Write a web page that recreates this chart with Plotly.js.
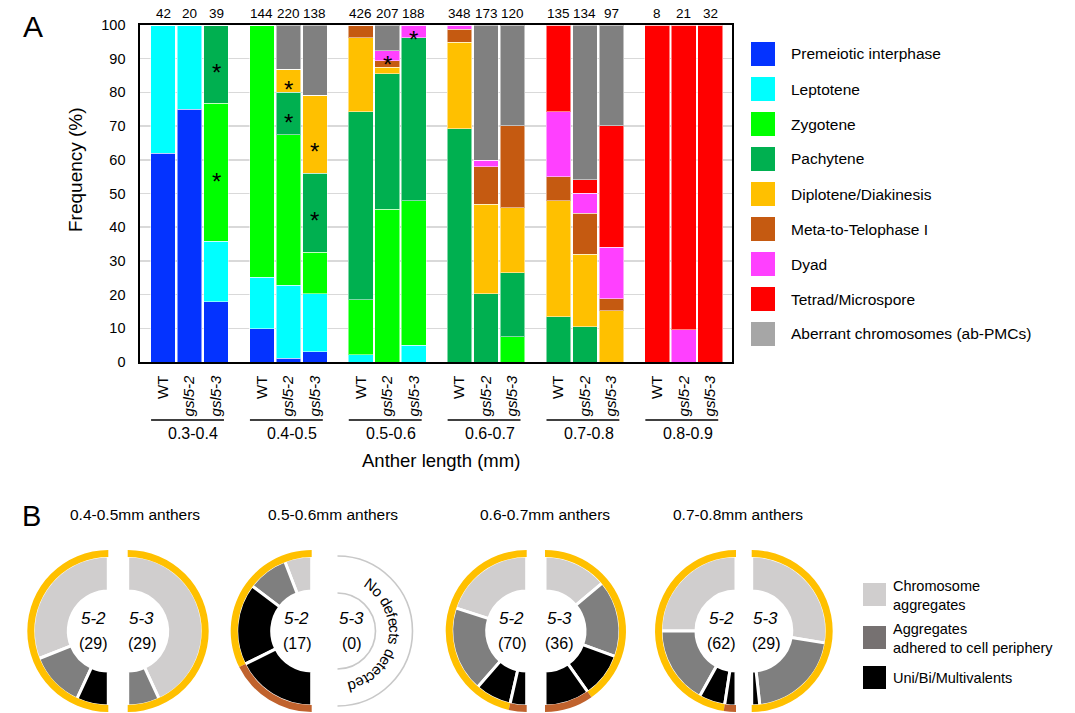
<!DOCTYPE html>
<html><head><meta charset="utf-8">
<script src="https://cdn.plot.ly/plotly-3.0.1.min.js"></script>
<style>html,body{margin:0;padding:0;background:#fff}#chart{width:1075px;height:713px}</style>
</head><body><div id="chart"></div>
<script>
// ---------------- Panel A data ----------------
const sizeRanges = ['0.3-0.4','0.4-0.5','0.5-0.6','0.6-0.7','0.7-0.8','0.8-0.9'];
const genotypes = ['WT','<i>gsl5-2</i>','<i>gsl5-3</i>'];
const cellCounts = [42,20,39, 144,220,138, 426,207,188, 348,173,120, 135,134,97, 8,21,32];
const stageNames = ['Premeiotic interphase','Leptotene','Zygotene','Pachytene','Diplotene/Diakinesis',
  'Meta-to-Telophase I','Dyad','Tetrad/Microspore','Aberrant chromosomes (ab-PMCs)'];
const premeiotic = [61.9,75.0,17.9, 9.8,1.1,3.0, 0,0,0, 0,0,0, 0,0,0, 0,0,0];
const leptotene  = [38.1,25.0,17.9, 15.3,21.7,17.3, 2.1,0,5.0, 0,0,0, 0,0,0, 0,0,0];
const zygotene   = [0,0,41.0, 74.9,44.6,12.3, 16.3,45.3,42.8, 0,0,7.5, 0,0,0, 0,0,0];
const pachytene  = [0,0,23.1, 0,12.6,23.4, 55.8,40.2,48.4, 69.2,20.2,19.0, 13.4,10.5,0, 0,0,0];
const diplotene  = [0,0,0, 0,6.9,23.1, 22.0,2.0,0, 25.7,26.6,19.2, 34.4,21.5,15.2, 0,0,0];
const metaTelo   = [0,0,0, 0,0,0, 3.8,1.9,0, 3.8,11.2,24.4, 7.2,12.2,3.5, 0,0,0];
const dyad       = [0,0,0, 0,0,0, 0,3.0,3.8, 1.3,1.9,0, 19.2,5.9,15.3, 0,9.5,0];
const tetrad     = [0,0,0, 0,0,0, 0,0,0, 0,0,0, 25.8,4.0,36.1, 100,90.5,100];
const aberrant   = [0,0,0, 0,13.1,20.9, 0,7.6,0, 0,40.1,29.9, 0,45.9,29.9, 0,0,0];
const stageValues = [premeiotic,leptotene,zygotene,pachytene,diplotene,metaTelo,dyad,tetrad,aberrant];
// asterisks: bar index and frequency level
const asteriskBar = [2,2,4,4,5,5,7,8];
const asteriskLevel = [88,55.5,83,73,64.5,44,90.5,97.7];

// ---------------- Panel B data ----------------
const donutTitles = ['0.4-0.5mm anthers','0.5-0.6mm anthers','0.6-0.7mm anthers','0.7-0.8mm anthers'];
const mutantLabels = ['5-2','5-3'];
const defectNames = ['Chromosome<br>aggregates','Aggregates<br>adhered to cell periphery','Uni/Bi/Multivalents'];
// counts of [aggregates, adhered, multivalents] at diplotene/diakinesis and at meta-to-telophase I
const gsl52Diplotene = [[18,7,4],[2,3,6],[28,26,11],[31,21,7]];
const gsl52Meta      = [[0,0,0],[0,0,6],[0,0,5],[0,0,3]];
const gsl53Diplotene = [[25,4,0],[0,0,0],[10,12,7],[16,12,1]];
const gsl53Meta      = [[0,0,0],[0,0,0],[0,0,7],[0,0,0]];

// ---------------- styles ----------------
const W = 1075, H = 713;
const FONT = 'Liberation Sans, Arial, sans-serif';
const stageColors = ['#0433FF','#00FFFF','#00FF00','#00B050','#FFC000','#C55A11','#FF40FF','#FF0000','#808080'];
const legendColors = ['#0433FF','#00FFFF','#00FF00','#00B050','#FFC000','#C55A11','#FF40FF','#FF0000','#A6A6A6'];
const defectColors = ['#D0CECE','#7F7F7F','#000000'];
const defectLegendColors = ['#D0CECE','#767171','#000000'];
const ringColors = ['#FFC000','#C0622D'];
const CLEAR = 'rgba(0,0,0,0)';
const GROUP_STEP = 3.73;
const px = x => x / W;
const py = y => 1 - y / H;

const barX = cellCounts.map((c, i) => Math.floor(i / 3) * GROUP_STEP + (i % 3));
const tickText = cellCounts.map((c, i) => genotypes[i % 3]);

const data = [];
stageValues.forEach((vals, s) => {
  data.push({
    type: 'bar', x: barX, y: vals, name: stageNames[s], width: 0.93,
    marker: {color: stageColors[s], line: {color: 'rgba(255,255,255,0.5)', width: 1}},
    hoverinfo: 'name+y', showlegend: false
  });
});

const annotations = [];
const shapes = [];
const txt = (text, x, y, size, opts = {}) => Object.assign({
  text, x, y, xref: 'paper', yref: 'paper', showarrow: false,
  font: {family: FONT, size, color: '#000'}, xanchor: 'center', yanchor: 'middle'
}, opts);

// Panel letters and axis titles
annotations.push(txt('A', px(33), py(27), 30));
annotations.push(txt('B', px(31), py(516), 29));
annotations.push(txt('Frequency (%)', px(75), py(170), 19, {textangle: -90}));
annotations.push(txt('Anther length (mm)', px(441), py(460), 18.5));

// Counts above bars
cellCounts.forEach((c, i) => annotations.push(txt(String(c), barX[i], py(14), 13.5, {xref: 'x'})));
// Asterisks
asteriskBar.forEach((b, k) => annotations.push({
  text: '*', x: barX[b], y: asteriskLevel[k], xref: 'x', yref: 'y', showarrow: false,
  font: {family: FONT, size: 24, color: '#000'}, yshift: -7
}));
// Group lines and size range labels
sizeRanges.forEach((r, g) => {
  const x0 = g * GROUP_STEP;
  shapes.push({type: 'line', xref: 'x', yref: 'paper', x0: x0 - 0.45, x1: x0 + 2.3,
    y0: py(420), y1: py(420), line: {color: '#000', width: 1.3}});
  annotations.push(txt(r, x0 + 1.15, py(433), 16, {xref: 'x'}));
});
// Panel A legend
stageNames.forEach((n, i) => {
  const top = 42 + 35 * i;
  shapes.push({type: 'rect', xref: 'paper', yref: 'paper', x0: px(751), x1: px(775),
    y0: py(top + 24), y1: py(top), fillcolor: legendColors[i], line: {width: 0}});
  annotations.push(txt(n, px(789), py(top + 12), 15.5, {xanchor: 'left'}));
});

// ---------------- Panel B donuts ----------------
const flatEdges = [[108.3,127.7],[311.7,337.5],[526.7,545],[736,751.7]];
const titleX = [135,333,545,738];
const labelOffset = [-15,14];
const CY = 631, R_RING = 81, R_SECT = 75, R_HOLE = 40;
const sum = a => a.reduce((p, q) => p + q, 0);

donutTitles.forEach((t, g) => {
  annotations.push(txt(t, px(titleX[g]), py(514), 15.5));
  [0, 1].forEach(m => {
    const dip = (m === 0 ? gsl52Diplotene : gsl53Diplotene)[g];
    const met = (m === 0 ? gsl52Meta : gsl53Meta)[g];
    const total = sum(dip) + sum(met);
    const cx = flatEdges[g][m];
    const ccw = m === 0;
    const lx = cx + labelOffset[m];
    annotations.push(txt('<i>' + mutantLabels[m] + '</i>', px(lx), py(618), 17));
    annotations.push(txt('(' + total + ')', px(lx), py(643), 16));
    if (total > 0) {
      // sector half-donut; in counterclockwise mode plotly draws the first slice clockwise
      // of 12 o'clock, so the invisible half goes first there
      let vals = [], cols = [], lines = [];
      [dip, met].forEach(arr => arr.forEach((v, k) => {
        if (v > 0) { vals.push(v); cols.push(defectColors[k]); lines.push('#FFFFFF'); }
      }));
      if (ccw) { vals.unshift(total); cols.unshift(CLEAR); lines.unshift(CLEAR); }
      else { vals.push(total); cols.push(CLEAR); lines.push(CLEAR); }
      data.push({type: 'pie', values: vals, sort: false, direction: ccw ? 'counterclockwise' : 'clockwise',
        rotation: 0, hole: R_HOLE / R_SECT, textinfo: 'none', hoverinfo: 'skip', showlegend: false,
        marker: {colors: cols, line: {color: lines, width: 3}},
        domain: {x: [px(cx - R_SECT), px(cx + R_SECT)], y: [py(CY + R_SECT), py(CY - R_SECT)]}});
      let rv = [], rc = [];
      [sum(dip), sum(met)].forEach((v, k) => { if (v > 0) { rv.push(v); rc.push(ringColors[k]); } });
      if (ccw) { rv.unshift(total); rc.unshift(CLEAR); } else { rv.push(total); rc.push(CLEAR); }
      data.push({type: 'pie', values: rv, sort: false, direction: ccw ? 'counterclockwise' : 'clockwise',
        rotation: 0, hole: (R_SECT - 1) / R_RING, textinfo: 'none', hoverinfo: 'skip', showlegend: false,
        marker: {colors: rc, line: {width: 0}},
        domain: {x: [px(cx - R_RING), px(cx + R_RING)], y: [Math.max(0, py(CY + R_RING)), py(CY - R_RING)]}});
    } else {
      // empty half: outline arcs and curved message
      const k = 0.5523;
      [75, 38].forEach(r => {
        const p = (x, y) => px(x).toFixed(5) + ',' + py(y).toFixed(5);
        const path = 'M' + p(cx, CY - r) +
          ' C' + p(cx + k * r, CY - r) + ' ' + p(cx + r, CY - k * r) + ' ' + p(cx + r, CY) +
          ' C' + p(cx + r, CY + k * r) + ' ' + p(cx + k * r, CY + r) + ' ' + p(cx, CY + r);
        shapes.push({type: 'path', xref: 'paper', yref: 'paper', path, line: {color: '#C8C8C8', width: 1.6}});
      });
      const msg = 'No defects detected';
      const cw = {N: .722, o: .556, ' ': .278, d: .556, e: .556, f: .278, c: .5, t: .278, s: .5};
      const widths = msg.split('').map(ch => cw[ch] || .55);
      const totalW = sum(widths);
      const a0 = 30, a1 = 169, rText = 57;
      let acc = 0;
      msg.split('').forEach((ch, i) => {
        const a = a0 + (acc + widths[i] / 2) / totalW * (a1 - a0);
        acc += widths[i];
        if (ch === ' ') return;
        const rad = a * Math.PI / 180;
        annotations.push(txt(ch, px(cx + rText * Math.sin(rad)), py(CY - rText * Math.cos(rad)), 15,
          {textangle: a}));
      });
    }
  });
});
// Panel B legend
const legTops = [583, 626, 666];
defectNames.forEach((n, i) => {
  shapes.push({type: 'rect', xref: 'paper', yref: 'paper', x0: px(863), x1: px(886),
    y0: py(legTops[i] + 23), y1: py(legTops[i]), fillcolor: defectLegendColors[i], line: {width: 0}});
  annotations.push(txt(n, px(891), py(legTops[i] + 12), 14.5, {xanchor: 'left', align: 'left'}));
});

const layout = {
  width: W, height: H, margin: {l: 0, r: 0, t: 0, b: 0},
  paper_bgcolor: '#fff', plot_bgcolor: '#fff', barmode: 'stack', bargap: 0,
  font: {family: FONT, color: '#000'}, showlegend: false,
  xaxis: {domain: [px(140), px(732)], range: [-0.868, 21.47], tickvals: barX, ticktext: tickText,
    tickangle: -90, tickfont: {size: 15, family: FONT}, ticks: '', showgrid: false, zeroline: false,
    showline: true, linecolor: '#000', linewidth: 1.6, mirror: true, ticklabelstandoff: 6, fixedrange: true},
  yaxis: {domain: [py(362), py(25)], range: [0, 100], tickvals: [0,10,20,30,40,50,60,70,80,90,100],
    tickfont: {size: 14.5, family: FONT}, ticks: '', showgrid: true, gridcolor: '#D9D9D9', gridwidth: 1.5,
    zeroline: false, showline: true, linecolor: '#000', linewidth: 1.6, mirror: true,
    ticklabelstandoff: 10, fixedrange: true},
  annotations, shapes
};
Plotly.newPlot('chart', data, layout, {displayModeBar: false, staticPlot: true});
</script></body></html>
